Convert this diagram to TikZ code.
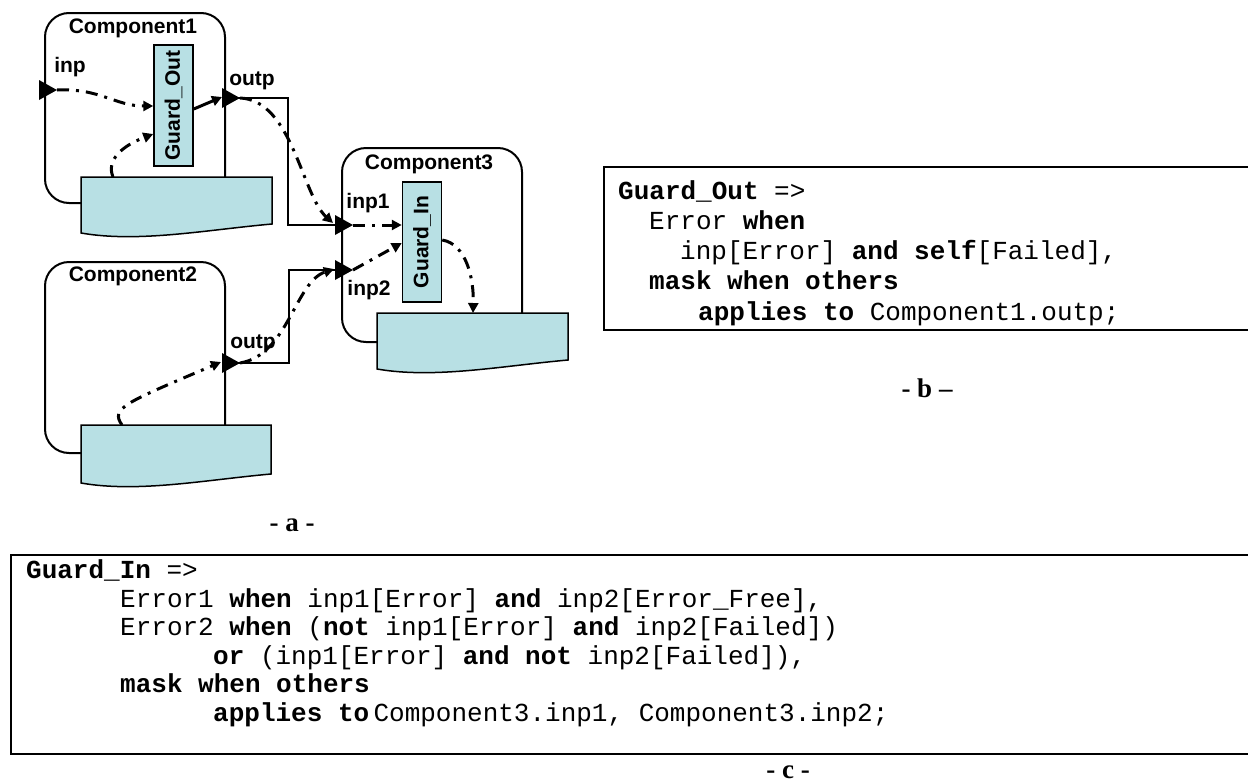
\documentclass[tikz,border=0pt]{standalone}
\usepackage{fontspec}
\setmainfont{Liberation Serif}
\setsansfont{Liberation Sans}
\setmonofont{Liberation Mono}
\usetikzlibrary{arrows.meta}

\definecolor{docblue}{RGB}{184,224,228}

\tikzset{
  comp/.style={draw=black, line width=2pt, rounded corners=24pt},
  docbox/.style={draw=black, line width=1.5pt, fill=docblue},
  guard/.style={draw=black, line width=1.5pt, fill=docblue, minimum width=39pt, inner sep=0pt},
  guardtext/.style={rotate=90, font=\sffamily\bfseries\fontsize{21}{23}\selectfont, inner sep=0pt},
  wire/.style={draw=black, line width=1.5pt},
  flow/.style={draw=black, line width=3pt, dash pattern=on 12pt off 7pt on 3pt off 7pt,
               -{Triangle[length=10pt,width=10pt]}},
  solidflow/.style={draw=black, line width=3pt, -{Triangle[length=10pt,width=10pt]}},
  lbl/.style={font=\sffamily\bfseries\fontsize{21}{23}\selectfont, inner sep=0pt, anchor=base},
  code/.style={font=\ttfamily\fontsize{26}{28}\selectfont, inner sep=0pt, anchor=base west},
  caption/.style={font=\rmfamily\bfseries\fontsize{27}{29}\selectfont, inner sep=0pt, anchor=base},
  codeframe/.style={draw=black, line width=2.5pt}
}

% document shape: x1, ytop, x2, ybottom (bottom edge is wavy)
\newcommand\docshape[4]{%
  \filldraw[docbox] (#1,#2) -- (#3,#2) -- (#3,#4-9)
    .. controls ({#3-0.35*(#3-#1)},#4-3) and ({#1+0.3*(#3-#1)},#4+10) .. (#1,#4) -- cycle;}

% port triangle pointing right, centred on the named coordinate
\newcommand\port[3]{%
  \coordinate (#1) at (#2,#3);
  \fill ([shift={(-9pt,10pt)}]#1) -- ([shift={(9pt,0pt)}]#1) -- ([shift={(-9pt,-10pt)}]#1) -- cycle;}

\begin{document}
\begin{tikzpicture}[x=1pt, y=-1pt]
\useasboundingbox (0,0) rectangle (1248,782);

% ---------- component frames ----------
\draw[comp] (45,13) rectangle (225,203);
\draw[comp] (45,262) rectangle (225,453);
\draw[comp] (342,148) rectangle (522,342);

% ---------- wiring between ports ----------
\coordinate (bend1) at (288,98);
\coordinate (bend2) at (289,363);
\draw[wire] (231,98) -- (bend1) |- (344,225);
\draw[wire] (231,363) -- (bend2) |- (344,270);

% ---------- documents (component state) ----------
\docshape{81}{177}{272}{233}
\docshape{81}{425}{271}{483}
\docshape{377}{313}{568}{369}
\coordinate (doc1top) at (113,177);
\coordinate (doc2top) at (122,425);
\coordinate (doc3top) at (473,313);

% ---------- guards ----------
\node[guard, minimum height=121pt] (gout) at (173.5,105.5) {};
\node[guardtext] (goutlbl) at (gout.center) {Guard\_Out};
\node[guard, minimum height=120pt] (gin) at (422,242) {};
\node[guardtext] (ginlbl) at (gin.center) {Guard\_In};

% ---------- ports ----------
\port{c1inp}{48}{90}
\port{c1outp}{231}{98}
\port{c2outp}{231}{363}
\port{c3inp1}{344}{225}
\port{c3inp2}{344}{270}

% ---------- labels ----------
\node[lbl] (l1) at (133,33) {Component1};
\node[lbl] (l2) at (133,281) {Component2};
\node[lbl] (l3) at (429,169) {Component3};
\node[lbl] (linp) at (70,72) {inp};
\node[lbl] (loutp1) at (252,85) {outp};
\node[lbl] (loutp2) at (253,348) {outp};
\node[lbl] (linp1) at (368,208) {inp1};
\node[lbl] (linp2) at (369,295) {inp2};

% ---------- error propagation ----------
\draw[flow] ([xshift=9pt]c1inp) .. controls (100,88) and (115,106) .. (gout.west |- 0,106);
\draw[flow] (doc1top) .. controls (106,160) and (122,146) .. (gout.west |- 0,134);
\draw[solidflow] (gout.east |- 0,109) -- ([xshift=-9pt,yshift=1pt]c1outp);
\draw[flow] ([xshift=9pt]c1outp) .. controls (292,100) and (302,195) .. ([xshift=-11pt,yshift=2pt]c3inp1);
\draw[flow] ([xshift=9pt]c3inp1) -- (gin.west |- 0,225);
\draw[flow] ([xshift=9pt]c3inp2) -- (gin.west |- 0,243);
\draw[flow] (doc2top) .. controls (110,408) and (125,403) .. ([xshift=-10pt,yshift=1pt]c2outp);
\draw[flow] ([xshift=9pt]c2outp) .. controls (288,355) and (295,282) .. ([xshift=-10pt,yshift=1pt]c3inp2);
\draw[flow] (gin.east |- 0,240) .. controls (466,244) and (474,278) .. (doc3top);

% ---------- caption a ----------
\node[caption] (capa) at (292,531) {- a -};

% ---------- code b ----------
\draw[codeframe] (1248,167) -- (604,167) -- (604,330) -- (1248,330);
\node[code] (b1) at (618,199) {\textbf{Guard\_Out} =>};
\node[code] (b2) at (649,229) {Error \textbf{when}};
\node[code] (b3) at (680,259) {inp[Error] \textbf{and} \textbf{self}[Failed],};
\node[code] (b4) at (649,289) {\textbf{mask when others}};
\node[code] (b5) at (698,320) {\textbf{applies to} Component1.outp;};
\node[caption] (capb) at (927,397) {- b --};

% ---------- code c ----------
\draw[codeframe] (1248,555) -- (11,555) -- (11,754) -- (1248,754);
\node[code] (c1) at (26,578) {\textbf{Guard\_In} =>};
\node[code] (c2) at (120,607) {Error1 \textbf{when} inp1[Error] \textbf{and} inp2[Error\_Free],};
\node[code] (c3) at (120,635) {Error2 \textbf{when} (\textbf{not} inp1[Error] \textbf{and} inp2[Failed])};
\node[code] (c4) at (213,664) {\textbf{or} (inp1[Error] \textbf{and} \textbf{not} inp2[Failed]),};
\node[code] (c5) at (120,692) {\textbf{mask when others}};
\node[code] (c6) at (213,721) {\textbf{applies to}\,Component3.inp1, Component3.inp2;};
\node[caption] (capc) at (788,778) {- c -};
\end{tikzpicture}
\end{document}
